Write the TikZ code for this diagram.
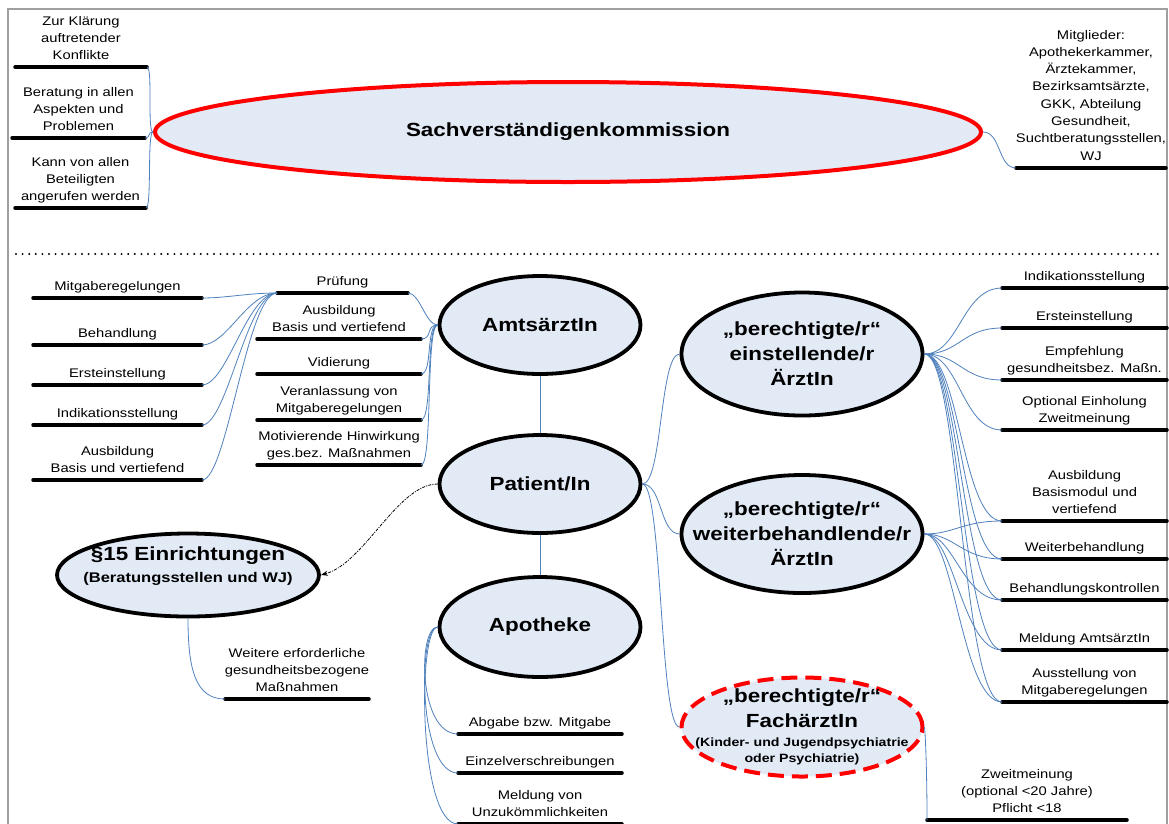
\documentclass[tikz,border=0pt]{standalone}
\usepackage{fontspec}
\setmainfont{Liberation Sans}[FakeStretch=1.18]
\usetikzlibrary{shapes.geometric,arrows.meta}
\definecolor{ellfill}{RGB}{226,234,246}
\definecolor{conblue}{RGB}{79,129,189}
\definecolor{framegray}{RGB}{160,160,160}
\tikzset{
  topic/.style={anchor=south, align=center, inner xsep=0pt, inner ysep=2.5pt,
    font=\fontsize{12.5}{17}\selectfont},
  uline/.style={draw=black, line width=3.5pt, line cap=round},
  ell/.style={ellipse, draw=black, line width=3.8pt, fill=ellfill, inner sep=0pt},
  redell/.style={ell, draw=red, line width=4pt},
  conn/.style={draw=conblue, line width=0.8pt},
  dashconn/.style={draw=black, line width=0.8pt,
    dash pattern=on 3pt off 1.2pt on 1pt off 1.2pt, -{Stealth[length=7pt,width=5pt]}},
  dotsep/.style={draw=black, line width=2.2pt, line cap=round, dash pattern=on 0pt off 6.6pt},
  lab/.style={align=center, inner sep=0pt, font=\fontsize{19}{25}\selectfont\bfseries}
}
\newcommand{\topic}[5]{%
  \coordinate (#1-l) at (#2,-#4);
  \coordinate (#1-r) at (#3,-#4);
  \node[topic] (#1) at ({(#2+#3)/2},-#4) {#5\strut};
  \draw[uline] (#1-l) -- (#1-r);
}
\begin{document}
\begin{tikzpicture}[x=1pt,y=1pt]
\useasboundingbox (0,0) rectangle (1169,-823);
\clip (0,0) rectangle (1169,-823);
\fill[white] (0,0) rectangle (1169,-823);
% frame
\draw[framegray, line width=1.5pt] (8,-830) -- (8,-9) -- (1167,-9) -- (1167,-830);
% separator
\draw[dotsep] (16,-254) -- (1162,-254);

% ===== top section =====
\node[redell, minimum width=826pt, minimum height=100pt,
  label={[lab]center:Sachverständigenkommission}] (sach) at (568,-132) {};
\topic{zk}{15}{147}{67}{Zur Klärung\\auftretender\\Konflikte}
\topic{ba}{12}{145}{138}{Beratung in allen\\Aspekten und\\Problemen}
\topic{kv}{15}{146}{208}{Kann von allen\\Beteiligten\\angerufen werden}
\node[topic, font=\fontsize{12.5}{17.3}\selectfont] (mg) at (1091,-168)
  {Mitglieder:\\Apothekerkammer,\\Ärztekammer,\\Bezirksamtsärzte,\\GKK, Abteilung\\Gesundheit,\\Suchtberatungsstellen,\\WJ\strut};
\coordinate (mg-l) at (1016,-168);
\coordinate (mg-r) at (1166,-168);
\draw[uline] (mg-l) -- (mg-r);

\draw[conn] (sach.west) to[out=180,in=0,out distance=6pt,in distance=6pt] (zk-r);
\draw[conn] (sach.west) to[out=180,in=0,out distance=6pt,in distance=6pt] (ba-r);
\draw[conn] (sach.west) to[out=180,in=0,out distance=6pt,in distance=6pt] (kv-r);
\draw[conn] (sach.east) to[out=0,in=180,out distance=18pt,in distance=18pt] (mg-l);

% ===== ellipses bottom =====
\node[ell, minimum width=201pt, minimum height=98pt,
  label={[lab]center:AmtsärztIn}] (amts) at (540,-325) {};
\node[ell, minimum width=201pt, minimum height=98pt,
  label={[lab]center:Patient/In}] (pat) at (540,-484) {};
\node[ell, minimum width=201pt, minimum height=100pt,
  label={[lab]center:Apotheke}] (apo) at (540,-627) {};
\node[ell, minimum width=262pt, minimum height=83pt,
  label={[lab, yshift=9pt]center:{§15 Einrichtungen\\[-3pt]{\fontsize{14}{18}\selectfont(Beratungsstellen und WJ)}}}] (par15) at (188,-575) {};
\node[ell, minimum width=241pt, minimum height=123pt,
  label={[lab]center:{„berechtigte/r“\\einstellende/r\\ÄrztIn}}] (ein) at (802,-354) {};
\node[ell, minimum width=241pt, minimum height=118pt,
  label={[lab]center:{„berechtigte/r“\\weiterbehandlende/r\\ÄrztIn}}] (wei) at (802,-534) {};
\node[redell, dash pattern=on 16pt off 8pt, minimum width=241pt, minimum height=99pt,
  label={[lab]center:{„berechtigte/r“\\FachärztIn\\[-6pt]{\fontsize{12}{16}\selectfont(Kinder- und Jugendpsychiatrie}\\[-9pt]{\fontsize{12}{16}\selectfont oder Psychiatrie)}}}] (fach) at (802,-727) {};

% ===== topics =====
\topic{p1}{277}{408}{293}{Prüfung}
\topic{p2}{257}{421}{339}{Ausbildung\\Basis und vertiefend}
\topic{p3}{257}{421}{374}{Vidierung}
\topic{p4}{257}{421}{420}{Veranlassung von\\Mitgaberegelungen}
\topic{p5}{257}{421}{465}{Motivierende Hinwirkung\\ges.bez. Maßnahmen}

\topic{l1}{33}{202}{298}{Mitgaberegelungen}
\topic{l2}{33}{202}{345}{Behandlung}
\topic{l3}{33}{202}{385}{Ersteinstellung}
\topic{l4}{33}{202}{425}{Indikationsstellung}
\topic{l5}{33}{202}{480}{Ausbildung\\Basis und vertiefend}

\topic{w1}{225}{369}{699}{Weitere erforderliche\\gesundheitsbezogene\\Maßnahmen}

\topic{a1}{458}{622}{734}{Abgabe bzw. Mitgabe}
\topic{a2}{458}{622}{773}{Einzelverschreibungen}
\topic{a3}{458}{622}{824}{Meldung von\\Unzukömmlichkeiten}

\topic{r1}{1002}{1167}{288}{Indikationsstellung}
\topic{r2}{1002}{1167}{328}{Ersteinstellung}
\topic{r3}{1002}{1167}{380}{Empfehlung\\gesundheitsbez. Maßn.}
\topic{r4}{1002}{1167}{430}{Optional Einholung\\Zweitmeinung}
\topic{r5}{1002}{1167}{521}{Ausbildung\\Basismodul und\\vertiefend}
\topic{r6}{1002}{1167}{559}{Weiterbehandlung}
\topic{r7}{1002}{1167}{600}{Behandlungskontrollen}
\topic{r8}{1002}{1167}{650}{Meldung AmtsärztIn}
\topic{r9}{1002}{1167}{702}{Ausstellung von\\Mitgaberegelungen}

\topic{zw}{927}{1127}{820}{Zweitmeinung\\(optional <20 Jahre)\\Pflicht <18}

% ===== connectors =====
\foreach \t in {p1,p2,p3,p4,p5}
  \draw[conn] (amts.west) to[out=180,in=0,out distance=12pt,in distance=12pt] (\t-r);
\foreach \t in {l1,l2,l3,l4,l5}
  \draw[conn] (p1-l) to[out=180,in=0,out distance=30pt,in distance=25pt] (\t-r);

\draw[conn] (amts.south) -- (pat.north);
\draw[conn] (pat.south) -- (apo.north);
\draw[dashconn] (pat.west) to[out=180,in=15,out distance=40pt,in distance=45pt] (par15.east);

\draw[conn] (pat.east) to[out=0,in=180,out distance=20pt,in distance=20pt] (ein.west);
\draw[conn] (pat.east) to[out=0,in=180,out distance=20pt,in distance=20pt] (wei.west);
\draw[conn] (pat.east) to[out=0,in=180,out distance=20pt,in distance=20pt] (fach.west);

\foreach \t in {r1,r2,r3,r4,r5,r6,r7,r8,r9}
  \draw[conn] (ein.east) to[out=0,in=180,out distance=35pt,in distance=40pt] (\t-l);
\foreach \t in {r5,r6,r7,r8,r9}
  \draw[conn] (wei.east) to[out=0,in=180,out distance=30pt,in distance=40pt] (\t-l);

\draw[conn] (fach.east) to[out=-85,in=90,out distance=20pt,in distance=30pt] (zw-l);

\foreach \t in {a1,a2,a3}
  \draw[conn] (apo.west) to[out=180,in=180,out distance=20pt,in distance=40pt] (\t-l);

\draw[conn] (par15.south) to[out=-90,in=180,out distance=50pt,in distance=30pt] (w1-l);
\end{tikzpicture}
\end{document}
